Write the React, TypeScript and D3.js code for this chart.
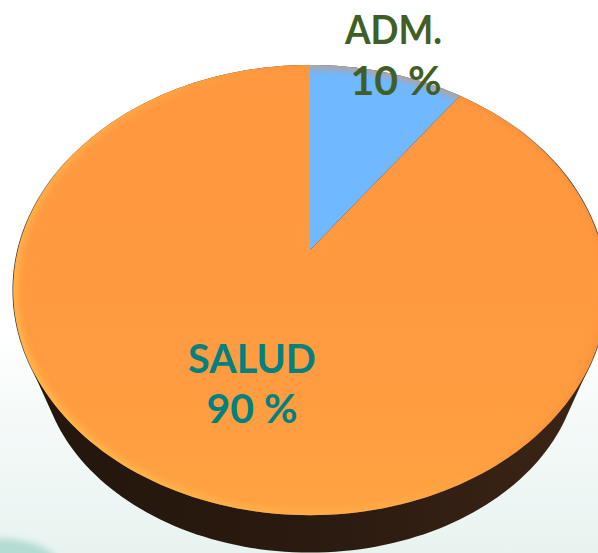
import * as d3 from 'd3';

const categories = ['ADM.', 'SALUD'];
const shares = [10, 90];
const labelColors = ['#3f5f27', '#00817f'];
const sliceFills = ['#70b8ff', 'url(#orangeFill)'];

const width = 598;
const height = 553;
const apex = { x: 310, y: 250 };
const radiusX = 292;
const radiusY = 218;
const tilt = -0.178;
// rim of the disc underside
const discMidY = 290.5;
const under = { midY: 356, scaleX: 0.909, scaleY: 0.875 };

// circle on the table -> tilted, slightly perspective disc
function project(angle: number): [number, number] {
  const u = Math.sin(angle);
  const v = -Math.cos(angle);
  const w = 1 + tilt * v;
  return [apex.x + (radiusX * u) / w, apex.y + (radiusY * v) / w];
}

function rimPoints(start: number, end: number) {
  const steps = Math.max(8, Math.round(((end - start) / (2 * Math.PI)) * 240));
  return d3.range(steps + 1).map((i) => project(start + ((end - start) * i) / steps));
}

export default function App() {
  const pie = d3.pie<number>().sort(null);
  const arcs = pie(shares);
  const line = d3.line();

  const full = rimPoints(0, 2 * Math.PI);
  const lowered = full.map(([x, y]): [number, number] => [
    apex.x + (x - apex.x) * under.scaleX,
    under.midY + (y - discMidY) * under.scaleY,
  ]);
  const hull = d3.polygonHull([...full, ...lowered]) ?? [];
  const fullPath = line(full) + 'Z';

  return (
    <svg
      width={width}
      height={height}
      viewBox={`0 0 ${width} ${height}`}
      style={{ position: 'fixed', left: 0, top: 0 }}
    >
      <defs>
        <linearGradient id="pageFill" x1="0" x2="0" y1="0" y2="1">
          <stop offset="0.6" stopColor="#ffffff" />
          <stop offset="0.75" stopColor="#f5faf9" />
          <stop offset="1" stopColor="#e8f3f0" />
        </linearGradient>
        <linearGradient id="orangeFill" x1="0" x2="0" y1="0" y2="1">
          <stop offset="0" stopColor="#ff9840" />
          <stop offset="0.7" stopColor="#ff9b40" />
          <stop offset="1" stopColor="#ffa342" />
        </linearGradient>
        <linearGradient id="wallFill" x1="0" x2="1" y1="0" y2="0">
          <stop offset="0" stopColor="#24160d" />
          <stop offset="0.5" stopColor="#2a1a10" />
          <stop offset="1" stopColor="#3d2516" />
        </linearGradient>
        <linearGradient id="rimFill" gradientUnits="userSpaceOnUse" x1="120" x2="480" y1="520" y2="300">
          <stop offset="0" stopColor="#ffbe50" stopOpacity="1" />
          <stop offset="0.6" stopColor="#ffb048" stopOpacity="0.7" />
          <stop offset="1" stopColor="#f78c38" stopOpacity="0.6" />
        </linearGradient>
        <linearGradient id="edgeLine" gradientUnits="userSpaceOnUse" x1="13" x2="607" y1="0" y2="0">
          <stop offset="0" stopColor="#2a1a10" stopOpacity="0.9" />
          <stop offset="0.12" stopColor="#2a1a10" stopOpacity="0" />
          <stop offset="0.8" stopColor="#2a1a10" stopOpacity="0" />
          <stop offset="0.93" stopColor="#2a1a10" stopOpacity="0.8" />
        </linearGradient>
        <filter id="soft" x="-10%" y="-10%" width="120%" height="120%">
          <feGaussianBlur stdDeviation="3.5" />
        </filter>
        <filter id="blotch" x="-50%" y="-50%" width="200%" height="200%">
          <feGaussianBlur stdDeviation="3" />
        </filter>
        <clipPath id="discClip">
          <path d={fullPath} />
        </clipPath>
      </defs>

      <rect width={width} height={height} fill="url(#pageFill)" />
      <ellipse cx={-5} cy={568} rx={66} ry={30} fill="#b5dcd2" filter="url(#blotch)" />

      <path d={fullPath} fill="none" stroke="url(#edgeLine)" strokeWidth={1.6} />
      <path d={line(hull) + 'Z'} fill="url(#wallFill)" />

      {arcs.map((slice, i) => (
        <path
          key={categories[i]}
          d={line([[apex.x, apex.y], ...rimPoints(slice.startAngle, slice.endAngle)]) + 'Z'}
          fill={sliceFills[i]}
        />
      ))}

      <g clipPath="url(#discClip)">
        <path d={fullPath} fill="none" stroke="url(#rimFill)" strokeWidth={7} filter="url(#soft)" />
      </g>

      <g fontFamily="Lato, sans-serif" fontWeight={700} textAnchor="middle">
        <text x={393.5} y={44} fontSize={41} fill={labelColors[0]} textLength={97} lengthAdjust="spacingAndGlyphs">
          {categories[0]}
        </text>
        <text x={396} y={95} fontSize={41} fill={labelColors[0]}>
          {shares[0]} %
        </text>
        <text x={252} y={373} fontSize={41} fill={labelColors[1]} textLength={128} lengthAdjust="spacingAndGlyphs">
          {categories[1]}
        </text>
        <text x={252} y={423} fontSize={41} fill={labelColors[1]}>
          {shares[1]} %
        </text>
      </g>
    </svg>
  );
}
